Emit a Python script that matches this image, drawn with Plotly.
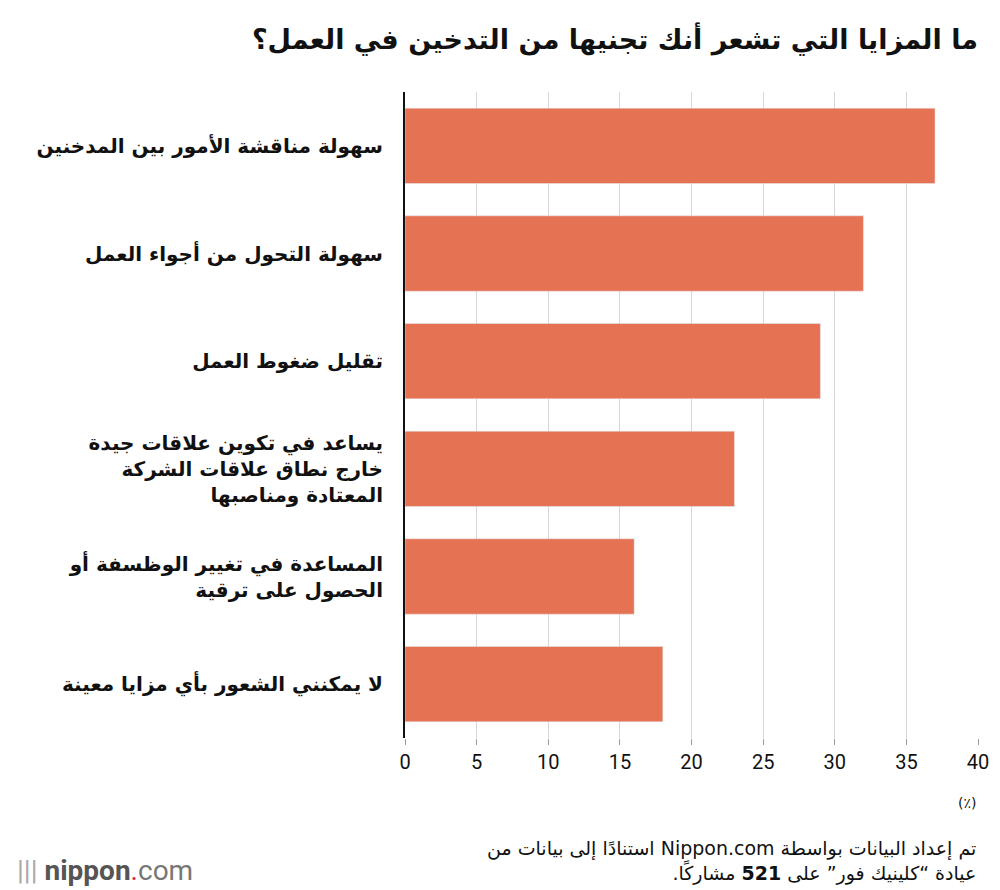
import plotly.graph_objects as go

RLE, PDF = "\u202B", "\u202C"

categories = [
    "سهولة مناقشة الأمور بين المدخنين",
    "سهولة التحول من أجواء العمل",
    "تقليل ضغوط العمل",
    "يساعد في تكوين علاقات جيدة<br>خارج نطاق علاقات الشركة<br>المعتادة ومناصبها",
    "المساعدة في تغيير الوظسفة أو<br>الحصول على ترقية",
    "لا يمكنني الشعور بأي مزايا معينة",
]
values = [37, 32, 29, 23, 16, 18]
tick_vals = [0, 5, 10, 15, 20, 25, 30, 35, 40]

FONT = "DejaVu Sans"

fig = go.Figure(go.Bar(
    x=values,
    y=categories,
    orientation="h",
    marker_color="#E67254",
    width=0.7,
    hoverinfo="x+y",
))

fig.update_layout(
    width=1000, height=890,
    paper_bgcolor="#ffffff", plot_bgcolor="#ffffff",
    margin=dict(l=397, r=30, t=84, b=160),
    font=dict(family=FONT, color="#111111"),
    showlegend=False,
    xaxis=dict(
        range=[0, 40], tickvals=tick_vals,
        showgrid=True, gridcolor="#d6d6d6", gridwidth=1,
        zeroline=False, showline=False,
        ticks="outside", ticklen=6, tickcolor="#999999",
        tickfont=dict(size=20, family="Roboto", color="#111111"),
    ),
    yaxis=dict(
        autorange="reversed",
        showline=True, linecolor="#111111", linewidth=2,
        ticks="", ticklabelstandoff=16,
        tickfont=dict(size=20, family=FONT, color="#111111", weight="bold"),
    ),
    title=dict(
        text="<b>" + RLE + "ما المزايا التي تشعر أنك تجنيها من التدخين في العمل؟" + PDF + "</b>",
        x=0.97, xanchor="right", y=0.975, yanchor="top",
        font=dict(size=27, family=FONT, color="#111111"),
    ),
    annotations=[
        dict(text="(٪)", x=1, y=-0.085, xref="paper", yref="paper",
             xanchor="right", yanchor="top", showarrow=False,
             font=dict(size=14, family=FONT)),
        dict(text=RLE + "تم إعداد البيانات بواسطة Nippon.com استنادًا إلى بيانات من" + PDF
                  + "<br>" + RLE + "عيادة “كلينيك فور” على <b>521</b> مشاركًا." + PDF,
             x=1, y=-0.19, xref="paper", yref="paper", showarrow=False,
             xanchor="right", yanchor="middle", align="right",
             font=dict(size=19, family=FONT)),
        dict(text="<span style='color:#aaa'>|||</span> <b>nippon</b><span style='color:#e0262a'>.</span><span style='color:#777'>com</span>",
             x=-0.68, y=-0.205, xref="paper", yref="paper", showarrow=False,
             xanchor="left", yanchor="middle",
             font=dict(size=28, family="Roboto", color="#555555")),
    ],
)

fig.write_html("out.html")
